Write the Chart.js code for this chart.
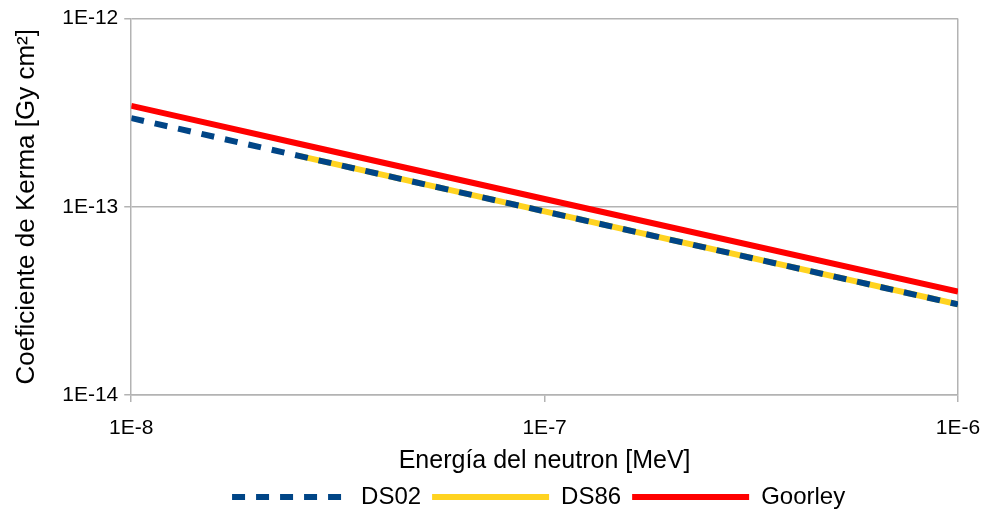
<!DOCTYPE html>
<html>
<head>
<meta charset="utf-8">
<script src="https://cdn.jsdelivr.net/npm/chart.js@4.4.0/dist/chart.umd.min.js"></script>
<style>
    html, body { margin: 0; padding: 0; background: #ffffff; }
    #wrap { width: 986px; height: 520px; }
</style>
</head>
<body>
<div id="wrap"><canvas id="kermaChart" width="986" height="520"></canvas></div>
<script>
// Energía [MeV] y coeficiente de kerma [Gy cm²]
const energyDS02 = [1e-8, 2.53e-8, 1e-7, 1e-6];
const kermaDS02 = [2.96e-13, 1.87e-13, 9.45e-14, 3.03e-14];

const energyDS86 = [2.53e-8, 1e-7, 1e-6];
const kermaDS86 = [1.87e-13, 9.45e-14, 3.03e-14];

const energyGoorley = [1e-8, 2.53e-8, 1e-7, 1e-6];
const kermaGoorley = [3.44e-13, 2.17e-13, 1.1e-13, 3.54e-14];

const xTickValues = [1e-8, 1e-7, 1e-6];
const xTickLabels = ['1E-8', '1E-7', '1E-6'];
const yTickValues = [1e-14, 1e-13, 1e-12];
const yTickLabels = ['1E-14', '1E-13', '1E-12'];

const gridGray = '#b3b3b3';
const fontFamily = '"Liberation Sans", Arial, sans-serif';

function toPoints(xs, ys) {
    return xs.map((x, i) => ({ x: x, y: ys[i] }));
}

function labelFor(values, labels) {
    return function(value) {
        const i = values.findIndex(v => Math.abs(Math.log10(v) - Math.log10(value)) < 1e-6);
        return i >= 0 ? labels[i] : '';
    };
}

// la leyenda se centra sobre el área de trazado
const legendShift = {
    id: 'legendShift',
    afterLayout(chart) {
        const area = chart.chartArea;
        const shift = (area.left + area.right) / 2 - chart.width / 2 - 6;
        chart.legend.left += shift;
        chart.legend.right += shift;
    }
};

const ctx = document.getElementById('kermaChart').getContext('2d');

new Chart(ctx, {
    type: 'line',
    data: {
        datasets: [{
            label: 'DS02',
            data: toPoints(energyDS02, kermaDS02),
            borderColor: '#004586',
            backgroundColor: '#004586',
            borderWidth: 6,
            borderDash: [13, 11],
            borderCapStyle: 'butt',
            pointRadius: 0,
            tension: 0
        }, {
            label: 'DS86',
            data: toPoints(energyDS86, kermaDS86),
            borderColor: '#ffd320',
            backgroundColor: '#ffd320',
            borderWidth: 6,
            pointRadius: 0,
            tension: 0
        }, {
            label: 'Goorley',
            data: toPoints(energyGoorley, kermaGoorley),
            borderColor: '#ff0000',
            backgroundColor: '#ff0000',
            borderWidth: 6,
            pointRadius: 0,
            tension: 0
        }]
    },
    options: {
        responsive: false,
        animation: false,
        layout: {
            padding: { left: 0, right: 0, top: 8, bottom: 1 }
        },
        scales: {
            x: {
                type: 'logarithmic',
                min: 1e-8,
                max: 1e-6,
                afterBuildTicks: scale => {
                    scale.ticks = xTickValues.map(v => ({ value: v }));
                },
                // margen derecho fijo, sin sumar el relleno de las etiquetas
                afterFit: scale => {
                    scale.paddingRight = 28;
                },
                ticks: {
                    callback: labelFor(xTickValues, xTickLabels),
                    color: '#000000',
                    font: { family: fontFamily, size: 21, lineHeight: 1 },
                    padding: 16,
                    maxRotation: 0
                },
                grid: {
                    color: c => c.index === xTickValues.length - 1 ? gridGray : 'rgba(0,0,0,0)',
                    tickColor: gridGray,
                    tickLength: 7,
                    lineWidth: 1.5
                },
                border: { color: gridGray, width: 1.5 },
                title: {
                    display: true,
                    text: 'Energía del neutron [MeV]',
                    color: '#000000',
                    font: { family: fontFamily, size: 25, lineHeight: 1 },
                    padding: { top: -6, bottom: 0 }
                }
            },
            y: {
                type: 'logarithmic',
                min: 1e-14,
                max: 1e-12,
                afterBuildTicks: scale => {
                    scale.ticks = yTickValues.map(v => ({ value: v }));
                },
                ticks: {
                    callback: labelFor(yTickValues, yTickLabels),
                    color: '#000000',
                    font: { family: fontFamily, size: 21 },
                    padding: 6
                },
                grid: {
                    color: gridGray,
                    tickColor: gridGray,
                    tickLength: 7,
                    lineWidth: 1.5
                },
                border: { color: gridGray, width: 1.5 },
                title: {
                    display: true,
                    text: 'Coeficiente de Kerma [Gy cm²]',
                    color: '#000000',
                    font: { family: fontFamily, size: 26 },
                    padding: { top: 11, bottom: 14 }
                }
            }
        },
        plugins: {
            legend: {
                position: 'bottom',
                labels: {
                    usePointStyle: true,
                    pointStyle: 'line',
                    pointStyleWidth: 117,
                    color: '#000000',
                    font: { family: fontFamily, size: 24 },
                    padding: 11,
                    generateLabels: chart => {
                        const items = Chart.defaults.plugins.legend.labels.generateLabels(chart);
                        items.forEach(item => {
                            const ds = chart.data.datasets[item.datasetIndex];
                            item.lineDash = ds.borderDash || [];
                            item.lineWidth = ds.borderWidth;
                            item.strokeStyle = ds.borderColor;
                            item.lineCap = 'butt';
                        });
                        return items;
                    }
                }
            },
            tooltip: { enabled: false }
        }
    },
    plugins: [legendShift]
});
</script>
</body>
</html>
